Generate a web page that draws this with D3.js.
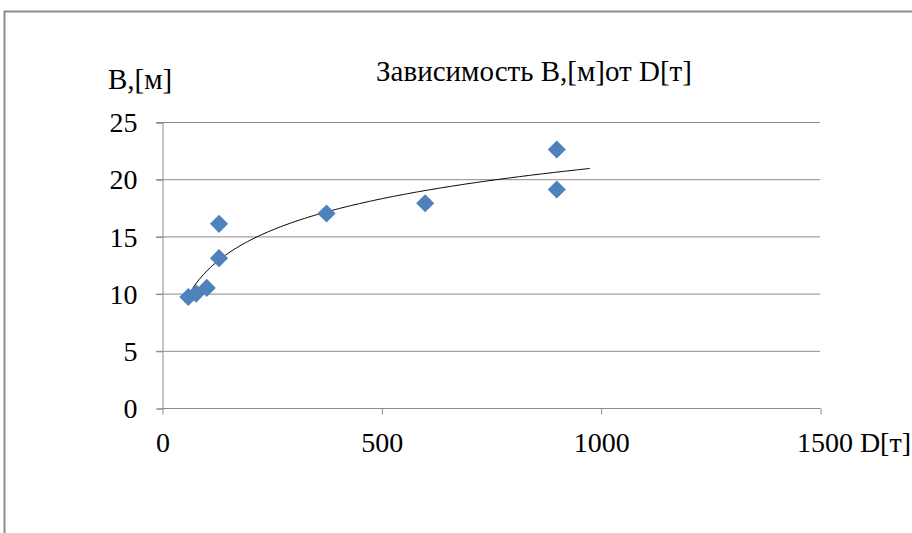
<!DOCTYPE html>
<html>
<head>
<meta charset="utf-8">
<script src="https://cdn.jsdelivr.net/npm/d3@7"></script>
<style>
  body { margin: 0; background: #fff; }
</style>
</head>
<body>
<div id="chart"></div>
<script>
// Data
const massD = [60, 78, 102, 130, 130, 375, 600, 900, 900];
const widthB = [9.7, 10.0, 10.5, 13.1, 16.1, 17.0, 17.9, 19.1, 22.6];
const xTicks = [0, 500, 1000, 1500];
const yTicks = [0, 5, 10, 15, 20, 25];
const titleText = "Зависимость B,[м]от D[т]";

const W = 912, H = 533;
const plot = {left: 162, right: 820, top: 122, bottom: 408};
const fontName = "Liberation Serif";
const tickPx = 28, labelPx = 29;

const svg = d3.select("#chart").append("svg")
  .attr("width", W).attr("height", H)
  .attr("font-family", fontName);

// outer frame
svg.append("path")
  .attr("d", `M4.5,${H} V11.5 H${W}`)
  .attr("fill", "none").attr("stroke", "#8c8c8c").attr("stroke-width", 2);

const x = d3.scaleLinear().domain([0, 1500]).range([plot.left, plot.right]);
const y = d3.scaleLinear().domain([0, 25]).range([plot.bottom, plot.top]);

// gridlines
svg.append("g")
  .selectAll("line")
  .data(yTicks.filter(d => d > 0))
  .join("line")
  .attr("x1", plot.left - 6).attr("x2", plot.right)
  .attr("y1", d => y(d) + 0.5).attr("y2", d => y(d) + 0.5)
  .attr("stroke", "#8a8a8a").attr("stroke-width", 1);

// y axis
const yAxis = svg.append("g")
  .attr("transform", `translate(${plot.left + 0.5},0.5)`)
  .call(d3.axisLeft(y).tickValues(yTicks).tickSize(6).tickPadding(19));
yAxis.attr("font-family", fontName).attr("font-size", tickPx);
yAxis.select(".domain").attr("stroke", "#8a8a8a");
yAxis.selectAll(".tick line").attr("stroke", "#8a8a8a");
yAxis.selectAll(".tick text").attr("fill", "#000").attr("dy", "0.33em");

// x axis
const xAxis = svg.append("g")
  .attr("transform", `translate(0.5,${plot.bottom + 0.5})`)
  .call(d3.axisBottom(x).tickValues(xTicks).tickFormat(d3.format("d")).tickSize(6).tickPadding(18));
xAxis.attr("font-family", fontName).attr("font-size", tickPx);
xAxis.select(".domain").attr("stroke", "#8a8a8a").attr("d", `M${plot.left},0H${plot.right}`);
xAxis.selectAll(".tick line").attr("stroke", "#8a8a8a");
xAxis.selectAll(".tick text").attr("fill", "#000")
  .attr("dy", "0.71em")
  .attr("dx", d => d === 1500 ? 4 : 0);

// axis captions + title
const label = (tx, ty, anchor, s, px) => svg.append("text")
  .attr("x", tx).attr("y", ty).attr("text-anchor", anchor)
  .attr("font-size", px).text(s);
label(911, 452, "end", "D[т]", tickPx);
label(108, 89, "start", "B,[м]", labelPx);
label(534, 81, "middle", titleText, labelPx);

// logarithmic trendline by least squares
const lx = massD.map(Math.log);
const mx = d3.mean(lx), my = d3.mean(widthB);
const a = d3.sum(lx, (v, i) => (v - mx) * (widthB[i] - my)) / d3.sum(lx, v => (v - mx) ** 2);
const b = my - a * mx;
const trendX = d3.range(d3.min(massD), 976, 5);
svg.append("path")
  .datum(trendX)
  .attr("fill", "none")
  .attr("stroke", "#000")
  .attr("stroke-width", 1)
  .attr("d", d3.line().x(d => x(d)).y(d => y(a * Math.log(d) + b)));

// points
svg.append("g")
  .selectAll("path")
  .data(massD.map((d, i) => [d, widthB[i]]))
  .join("path")
  .attr("transform", d => `translate(${x(d[0])},${y(d[1])})`)
  .attr("d", d3.symbol(d3.symbolDiamond2, 210))
  .attr("fill", "#4f81bd");
</script>
</body>
</html>
